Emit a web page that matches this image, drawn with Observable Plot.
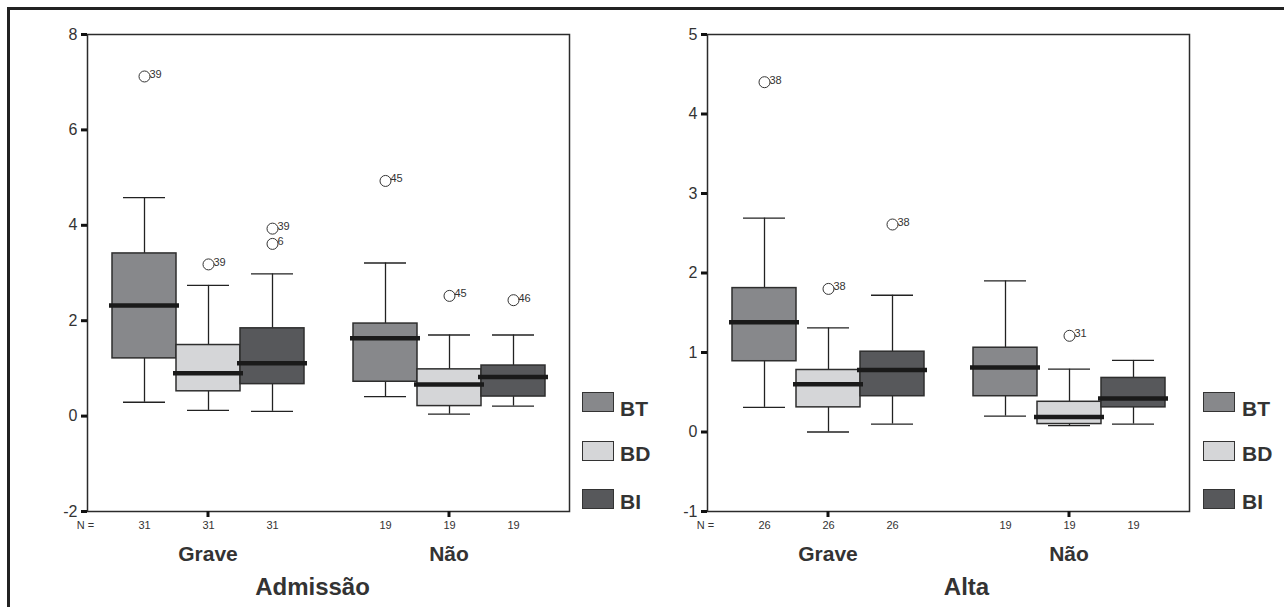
<!DOCTYPE html>
<html>
<head>
<meta charset="utf-8">
<script src="https://cdn.jsdelivr.net/npm/d3@7"></script>
<script src="https://cdn.jsdelivr.net/npm/@observablehq/plot@0.6"></script>
<style>
  html, body { margin: 0; padding: 0; background: #fff; }
  body { width: 1284px; height: 607px; position: relative; overflow: hidden; font-family: "Liberation Sans", Arial, sans-serif; }
  #border { position: absolute; left: 7px; top: 7px; width: 1290px; height: 620px; border-top: 3px solid #222; border-left: 3px solid #222; }
  .panel { position: absolute; top: 0; }
  .leg-box { position: absolute; width: 30px; height: 18px; border: 1.5px solid #333; }
  .leg-lab { position: absolute; font-weight: bold; font-size: 21px; color: #333; line-height: 1; }
</style>
</head>
<body>
<div id="border"></div>
<div id="p1" class="panel" style="left:0px"></div>
<div id="p2" class="panel" style="left:640px"></div>
<script>
// ---------- data ----------
const groups = ["Grave", "Não"];
const variables = ["BT", "BD", "BI"];
const boxColors = ["#87888b", "#d5d6d8", "#57585b"];

// Admissão — order: Grave BT, BD, BI, Não BT, BD, BI
const admissaoLower  = [0.29, 0.12, 0.10, 0.41, 0.04, 0.21];
const admissaoQ1     = [1.21, 0.52, 0.67, 0.72, 0.21, 0.41];
const admissaoMedian = [2.32, 0.90, 1.11, 1.63, 0.66, 0.82];
const admissaoQ3     = [3.41, 1.49, 1.84, 1.94, 0.98, 1.06];
const admissaoUpper  = [4.58, 2.74, 2.98, 3.21, 1.70, 1.70];
const admissaoN      = [31, 19];
const admissaoOutliers = [
  ["Grave", "BT", 7.12, "39"],
  ["Grave", "BD", 3.18, "39"],
  ["Grave", "BI", 3.93, "39"],
  ["Grave", "BI", 3.61, "6"],
  ["Não", "BT", 4.93, "45"],
  ["Não", "BD", 2.52, "45"],
  ["Não", "BI", 2.43, "46"]
];
const admissaoTicks = [-2, 0, 2, 4, 6, 8];

// Alta — order: Grave BT, BD, BI, Não BT, BD, BI
const altaLower  = [0.31, 0.00, 0.10, 0.20, 0.08, 0.10];
const altaQ1     = [0.89, 0.31, 0.45, 0.45, 0.10, 0.31];
const altaMedian = [1.38, 0.60, 0.78, 0.81, 0.19, 0.42];
const altaQ3     = [1.81, 0.78, 1.01, 1.06, 0.38, 0.68];
const altaUpper  = [2.69, 1.31, 1.72, 1.90, 0.79, 0.90];
const altaN      = [26, 19];
const altaOutliers = [
  ["Grave", "BT", 4.40, "38"],
  ["Grave", "BD", 1.80, "38"],
  ["Grave", "BI", 2.61, "38"],
  ["Não", "BD", 1.21, "31"]
];
const altaTicks = [-1, 0, 1, 2, 3, 4, 5];

// ---------- chart ----------
const FONT = "'Liberation Sans', Arial, sans-serif";

function panel({title, titleDx, lower, q1, median, q3, upper, n, outliers, ticks, width, marginLeft, marginRight}) {
  const rows = groups.flatMap((g, gi) => variables.map((v, vi) => {
    const i = gi * 3 + vi;
    return {g, v, lo: lower[i], q1: q1[i], med: median[i], q3: q3[i], hi: upper[i]};
  }));
  const nRows = groups.flatMap((g, gi) => variables.map(v => ({g, v, n: n[gi]})));
  const outRows = outliers.map(([g, v, y, label]) => ({g, v, y, label}));
  const ink = "#222";
  return Plot.plot({
    width, height: 607,
    marginLeft, marginRight, marginTop: 34, marginBottom: 96,
    style: {fontFamily: FONT, background: "transparent", overflow: "visible"},
    fx: {domain: groups, paddingInner: 0, paddingOuter: 0, label: null},
    x: {domain: variables, paddingInner: 0, paddingOuter: 0.37, axis: null},
    y: {domain: [ticks[0], ticks[ticks.length - 1]], nice: false, label: null},
    color: {domain: variables, range: boxColors},
    marks: [
      Plot.frame({facet: "super", stroke: "#2b2b2b", strokeWidth: 1.5}),
      Plot.axisY(ticks, {tickSize: 6, tickPadding: 4, tickFormat: d => String(d), stroke: "#111", strokeWidth: 3, color: "#333", fontSize: 16, label: null}),
      Plot.axisFx({anchor: "bottom", tickSize: 6, tickPadding: 29, stroke: "#111", strokeWidth: 3, color: "#333", fontSize: 21, fontWeight: "bold", label: null}),
      // whiskers
      Plot.ruleX(rows, {x: "v", fx: "g", y1: "lo", y2: "q1", stroke: ink, strokeWidth: 1.3}),
      Plot.ruleX(rows, {x: "v", fx: "g", y1: "q3", y2: "hi", stroke: ink, strokeWidth: 1.3}),
      Plot.tickY(rows, {x: "v", fx: "g", y: "lo", stroke: ink, strokeWidth: 1.3, insetLeft: 11, insetRight: 11}),
      Plot.tickY(rows, {x: "v", fx: "g", y: "hi", stroke: ink, strokeWidth: 1.3, insetLeft: 11, insetRight: 11}),
      // boxes
      Plot.barY(rows, {x: "v", fx: "g", y1: "q1", y2: "q3", fill: "v", stroke: "#2e2e2e", strokeWidth: 1.5}),
      // medians
      Plot.tickY(rows, {x: "v", fx: "g", y: "med", stroke: "#1a1a1a", strokeWidth: 4.5, insetLeft: -3, insetRight: -3}),
      // outliers
      Plot.dot(outRows, {x: "v", fx: "g", y: "y", r: 5.5, stroke: "#333", strokeWidth: 1, fill: "none"}),
      Plot.text(outRows, {x: "v", fx: "g", y: "y", text: "label", dx: 5, dy: -2, textAnchor: "start", fontSize: 11, fill: "#333"}),
      // N labels
      Plot.text(nRows, {x: "v", fx: "g", text: "n", frameAnchor: "bottom", lineAnchor: "middle", dy: 14, fontSize: 11, fill: "#333"}),
      Plot.text([{g: groups[0]}], {fx: "g", text: () => "N =", frameAnchor: "bottom-left", lineAnchor: "middle", dy: 14, dx: -2, textAnchor: "middle", fontSize: 11, fill: "#333"}),
      // panel title
      Plot.text([title], {facet: "super", text: d => d, frameAnchor: "bottom", lineAnchor: "middle", dy: 76, dx: titleDx, fontSize: 24, fontWeight: "bold", fill: "#333"})
    ]
  });
}

function legend(container, boxLeft, labelLeft) {
  variables.forEach((v, i) => {
    const top = 392 + i * 48.5;
    const b = document.createElement("div");
    b.className = "leg-box";
    b.style.left = boxLeft + "px";
    b.style.top = top + "px";
    b.style.background = boxColors[i];
    container.appendChild(b);
    const t = document.createElement("div");
    t.className = "leg-lab";
    t.textContent = v;
    t.style.left = labelLeft + "px";
    t.style.top = (top + (i === 0 ? 6 : 2)) + "px";
    container.appendChild(t);
  });
}

const p1 = document.getElementById("p1");
p1.appendChild(panel({
  title: "Admissão", titleDx: -16,
  lower: admissaoLower, q1: admissaoQ1, median: admissaoMedian, q3: admissaoQ3, upper: admissaoUpper,
  n: admissaoN, outliers: admissaoOutliers, ticks: admissaoTicks,
  width: 640, marginLeft: 86, marginRight: 71
}));
legend(p1, 582, 620);

const p2 = document.getElementById("p2");
p2.appendChild(panel({
  title: "Alta", titleDx: 18,
  lower: altaLower, q1: altaQ1, median: altaMedian, q3: altaQ3, upper: altaUpper,
  n: altaN, outliers: altaOutliers, ticks: altaTicks,
  width: 644, marginLeft: 67, marginRight: 95
}));
legend(p2, 563, 602);
</script>
</body>
</html>
